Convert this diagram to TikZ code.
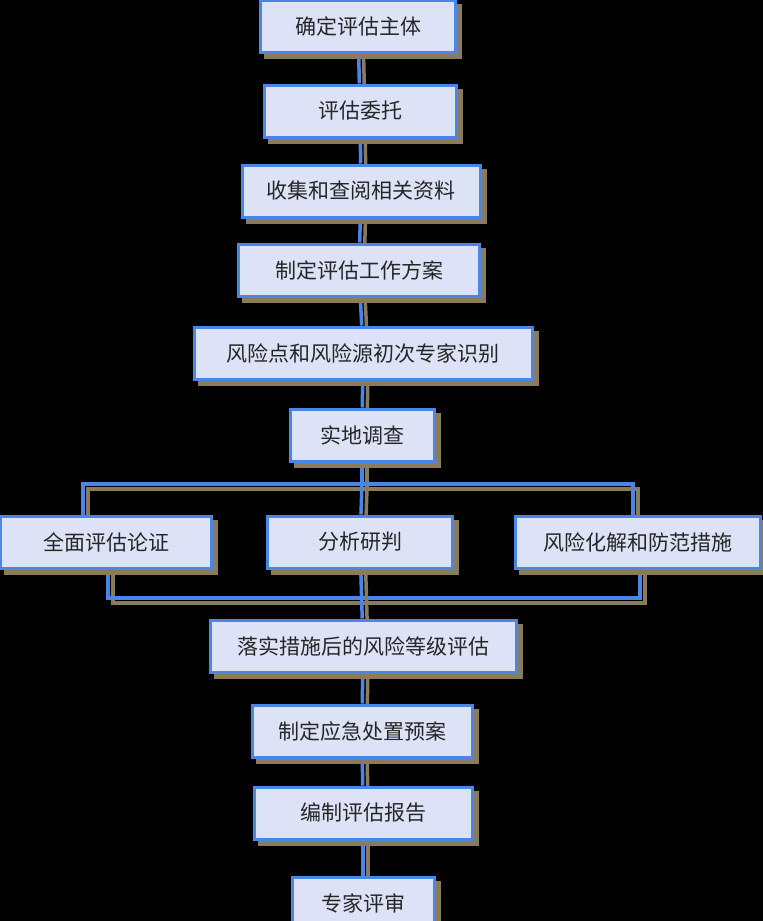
\documentclass[tikz,border=0pt]{standalone}
\usepackage{fontspec}
\setmainfont{Noto Sans CJK SC}
\usetikzlibrary{backgrounds,calc}
\definecolor{boxfill}{HTML}{DDE2F6}
\definecolor{boxline}{HTML}{4A86E8}
\definecolor{shade}{HTML}{8A7B5C}
\tikzset{
  stage/.style={draw=boxline, line width=3pt, fill=boxfill, inner sep=0pt,
    minimum height=52pt, font=\fontsize{21}{24}\selectfont, text=black!85,
    preaction={draw=shade, fill=shade, line width=3pt,
      transform canvas={shift={(5pt,-5pt)}}}},
  link/.style={draw=boxline, line width=3.5pt,
    preaction={draw=shade, line width=3.5pt,
      transform canvas={shift={(5pt,-5pt)}}}}
}
\begin{document}
\begin{tikzpicture}[x=1pt,y=-1pt]
\begin{scope}[on background layer]
\fill[black] (0,0) rectangle (763,921);
\end{scope}
\useasboundingbox (0,0) rectangle (763,921);
% main chain
\node[stage, minimum width=195pt] (b1) at (358,26) {确定评估主体};
\node[stage, minimum width=192pt] (b2) at (360,111) {评估委托};
\node[stage, minimum width=238pt] (b3) at (361,191) {收集和查阅相关资料};
\node[stage, minimum width=241pt] (b4) at (359,270) {制定评估工作方案};
\node[stage, minimum width=338pt] (b5) at (363,353) {风险点和风险源初次专家识别};
\node[stage, minimum width=144pt] (b6) at (362,435) {实地调查};
% three branches
\node[stage, minimum width=211pt] (b7) at (106,542) {全面评估论证};
\node[stage, minimum width=185pt] (b8) at (360,542) {分析研判};
\node[stage, minimum width=245pt] (b9) at (638,542) {风险化解和防范措施};
% after merge
\node[stage, minimum width=306pt] (b10) at (363,646) {落实措施后的风险等级评估};
\node[stage, minimum width=220pt] (b11) at (362,731) {制定应急处置预案};
\node[stage, minimum width=218pt] (b12) at (363,813) {编制评估报告};
\node[stage, minimum width=142pt] (b13) at (363,903) {专家评审};
\coordinate (split) at (362,484);
\coordinate (splitl) at (83,484);
\coordinate (splitr) at (633,484);
\coordinate (mergel) at (108,598);
\coordinate (merger) at (640,598);
\begin{scope}[on background layer]
\draw[link] (b1) -- (b2);
\draw[link] (b2) -- (b3);
\draw[link] (b3) -- (b4);
\draw[link] (b4) -- (b5);
\draw[link] (b5) -- (b6);
\draw[link] (b6) -- (split);
\draw[link] (splitl |- b7.north) -- (splitl) -- (splitr) -- (splitr |- b9.north);
\draw[link] (split) -- (b8);
\draw[link] (mergel |- b7.south) -- (mergel) -- (merger) -- (merger |- b9.south);
\draw[link] (b8) -- (b10);
\draw[link] (b10) -- (b11);
\draw[link] (b11) -- (b12);
\draw[link] (b12) -- (b13);
\end{scope}
\end{tikzpicture}
\end{document}
